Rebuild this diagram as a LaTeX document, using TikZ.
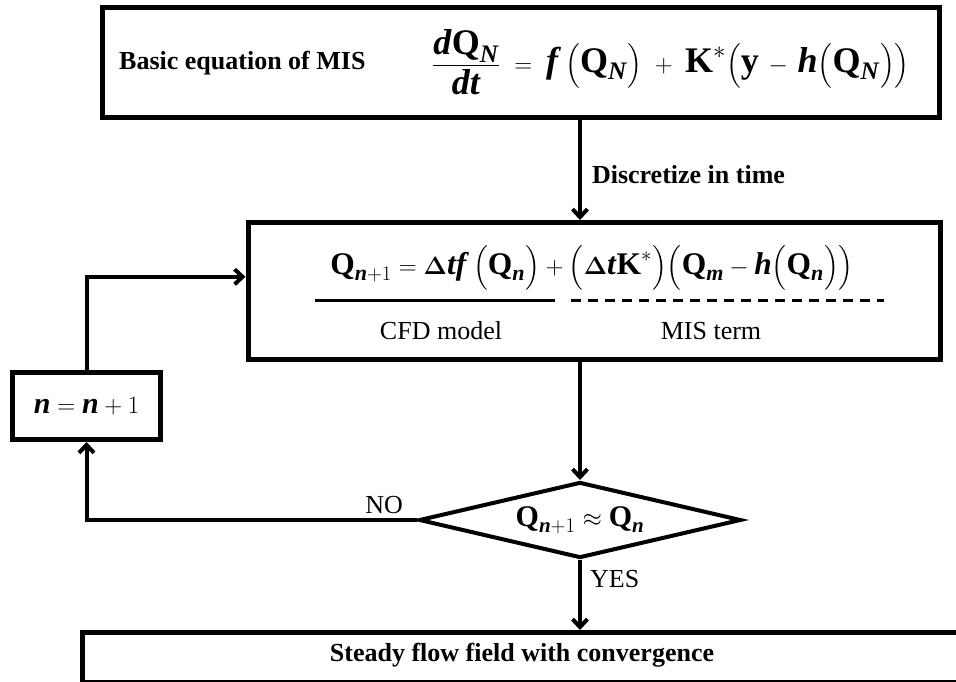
\documentclass[tikz,border=0pt]{standalone}
\usepackage{amsmath}
\usepackage{fontspec}
\setmainfont{Liberation Serif}
\usetikzlibrary{shapes.geometric,arrows.meta,calc}
% bold italic letters and bold vectors for the equations
\newcommand\bi[1]{\textbf{\textit{#1}}}
\newcommand\bQ{\textbf{Q}}
\begin{document}
\begin{tikzpicture}[x=1pt,y=-1pt,
  box/.style={draw, line width=5pt, rectangle, inner sep=0pt},
  flow/.style={line width=4pt, -{Straight Barb[length=8pt,width=15pt]}},
  lbl/.style={font=\fontsize{26}{30}\selectfont\bfseries, inner sep=0pt},
  reg/.style={font=\fontsize{26}{30}\selectfont, inner sep=0pt},
  eqn/.style={font=\fontsize{30}{36}\selectfont, inner sep=0pt}]
\useasboundingbox (0,0) rectangle (956,681);

% basic equation
\node[box, minimum width=837pt, minimum height=110pt] (top) at (521,62) {};
\node[lbl, anchor=west] (basic) at (119,63) {Basic equation of MIS};
\node[eqn, font=\fontsize{36}{42}\selectfont] (eq1) at (671,62)
  {$\dfrac{\bi{d}\bQ_{\bi{N}}}{\bi{dt}} \;=\; \bi{f}\,\Bigl(\bQ_{\bi{N}}\Bigr)
    \;+\; \textbf{K}^{*}\Bigl(\textbf{y} \,-\, \bi{h}\Bigl(\bQ_{\bi{N}}\Bigr)\Bigr)$};

% discretized update
\node[box, minimum width=692pt, minimum height=137pt] (mid) at (594,291) {};
\node[eqn, font=\fontsize{31.5}{37}\selectfont] (eq2) at (592,268)
  {$\bQ_{\bi{n}+1} = \boldsymbol{\Delta}\bi{tf}\,\Bigl(\bQ_{\bi{n}}\Bigr)
    + \Bigl(\boldsymbol{\Delta}\bi{t}\textbf{K}^{*}\Bigr)
    \Bigl(\bQ_{\bi{m}} - \bi{h}\Bigl(\bQ_{\bi{n}}\Bigr)\Bigr)$};
\coordinate (cfdA) at (315,300);
\coordinate (cfdB) at (555,300);
\coordinate (misA) at (571,300);
\coordinate (misB) at (884,300);
\draw[line width=3pt] (cfdA) -- (cfdB);
\draw[line width=3pt, dash pattern=on 10pt off 7pt] (misA) -- (misB);
\node[reg] (cfd) at (441,331) {CFD model};
\node[reg] (mist) at (711,331) {MIS term};

% convergence test
\node[diamond, draw, line width=4pt, minimum width=322pt, minimum height=76pt,
      inner sep=0pt, aspect=4.2, eqn] (dia) at (580,520)
  {$\bQ_{\bi{n}+1}\approx\bQ_{\bi{n}}$};

% iteration counter
\node[box, minimum width=148pt, minimum height=67pt, eqn] (nbox) at (86.5,406)
  {$\bi{n}=\bi{n}+1$};

% result
\begin{scope}
\clip (0,0) rectangle (956,681);
\node[box, anchor=north west, minimum width=950pt, minimum height=50pt]
  (steady) at (80,630) {};
\end{scope}
\node[lbl] (steadytxt) at (522,655) {Steady flow field with convergence};

% connectors
\coordinate (midin) at ($(mid.north west)!0.4!(mid.south west)$);
\draw[flow] (top.south -| dia.north) -- (mid.north -| dia.north)
  node[lbl, pos=0.55, right=10pt] (disc) {Discretize in time};
\draw[flow] (mid.south -| dia.north) -- (dia.north);
\draw[flow] (dia.south) -- (dia.south |- steady.north);
\draw[flow] (dia.west) -| (nbox.south);
\draw[flow] (nbox.north) |- (midin);

\node[reg, anchor=south east] (no) at ($(dia.west)+(-14,-6)$) {NO};
\node[reg, anchor=west] (yes) at ($(dia.south)+(10,19)$) {YES};
\end{tikzpicture}
\end{document}
